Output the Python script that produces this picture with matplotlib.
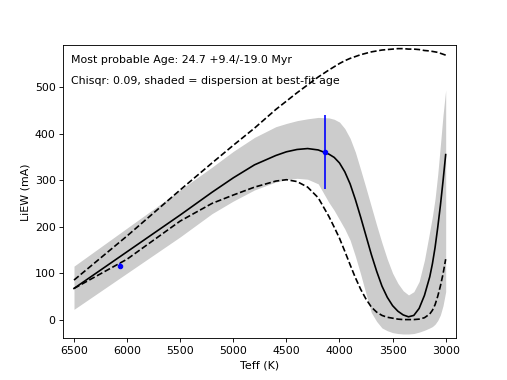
import numpy as np
import matplotlib
matplotlib.use("Agg")
import matplotlib.pyplot as plt

# Teff grid (K) shared by all model curves
teff = [6500, 6000, 5500, 5200, 5000, 4800, 4600, 4500, 4400, 4300, 4200, 4100,
        4050, 4000, 3950, 3900, 3850, 3800, 3750, 3700, 3650, 3600, 3550, 3500,
        3450, 3400, 3350, 3300, 3250, 3200, 3150, 3125, 3100, 3075, 3050, 3025, 3000]

# best-fit age model
best = [67, 146, 225, 274, 305, 333, 353, 361, 366, 368, 365, 356,
        349, 337, 318, 292, 258, 220, 180, 140, 104, 72, 48, 30,
        18, 10, 6, 9, 24, 52, 92, 120, 155, 198, 245, 298, 355]

# age limits (dashed)
young = [85, 180, 279, 337, 375, 412, 452, 470, 488, 505, 522, 537,
         544, 551, 557, 562, 566, 570, 573, 576, 578, 580, 581, 582,
         583, 583, 582, 582, 581, 579, 578, 577, 576, 575, 573, 571, 569]
old = [67, 130, 212, 250, 268, 285, 298, 301, 297, 285, 262, 222,
       199, 175, 147, 118, 90, 65, 44, 27, 16, 9, 5, 3,
       1, 0, 0, 0, 1, 4, 12, 20, 32, 50, 72, 98, 130]

# dispersion at best-fit age
disp_hi = [115, 197, 279, 328, 362, 392, 415, 422, 428, 432, 435, 434,
           431, 425, 411, 390, 360, 322, 283, 243, 203, 165, 130, 100,
           78, 62, 53, 60, 82, 128, 190, 222, 260, 312, 375, 440, 494]
disp_lo = [22, 100, 178, 228, 255, 279, 296, 301, 304, 302, 292, 252,
           235, 215, 195, 171, 136, 97, 55, 15, -4, -18, -24, -28,
           -30, -31, -31, -30, -27, -23, -18, -15, -10, -2, 10, 30, 60]

# observed stars
star_teff = [6070, 4137]
star_ew = [116, 360]
star_err = [6, 80]

fig = plt.figure(figsize=(6.4, 4.8), dpi=507 / 6.4)
ax = fig.add_subplot()

ax.fill_between(teff, disp_lo, disp_hi, color='0.8', linewidth=0)
ax.plot(teff, best, '-k')
ax.plot(teff, young, '--k')
ax.plot(teff, old, '--k')
ax.errorbar(star_teff, star_ew, yerr=star_err, fmt='o', color='blue', markersize=4)

ax.set_xlim(6600, 2900)
ax.set_ylim(-40, 590)
ax.set_xlabel('Teff (K)')
ax.set_ylabel('LiEW (mA)')
ax.text(0.02, 0.94, 'Most probable Age: 24.7 +9.4/-19.0 Myr', transform=ax.transAxes)
ax.text(0.02, 0.87, 'Chisqr: 0.09, shaded = dispersion at best-fit age', transform=ax.transAxes)

fig.savefig('out.png')
